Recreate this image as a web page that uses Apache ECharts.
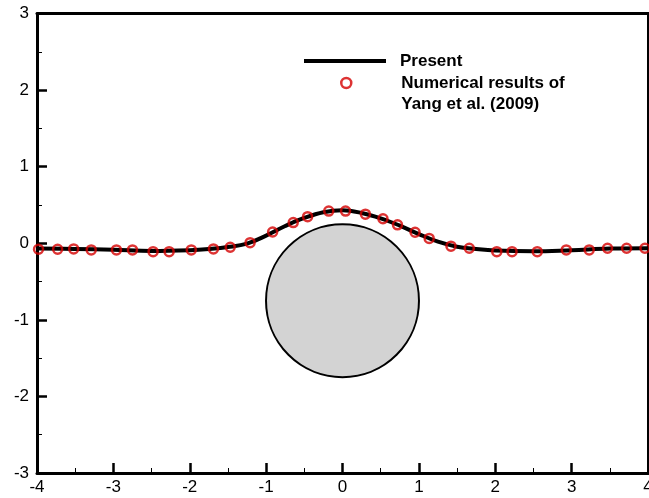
<!DOCTYPE html>
<html>
<head>
<meta charset="utf-8">
<script src="https://cdn.jsdelivr.net/npm/echarts@6/dist/echarts.min.js"></script>
<style>
  html, body { margin: 0; padding: 0; background: #fff; }
  #chart { width: 649px; height: 498px; }
</style>
</head>
<body>
<div id="chart"></div>
<script>
// Free-surface elevation over a submerged cylinder
var presentX = [-4, -3.5, -3, -2.5, -2, -1.75, -1.5, -1.25, -1, -0.75, -0.5, -0.25, 0, 0.25, 0.5, 0.75, 1, 1.25, 1.5, 1.75, 2, 2.5, 3, 3.5, 4];
var presentY = [-0.07, -0.075, -0.085, -0.1, -0.09, -0.075, -0.05, -0.005, 0.1, 0.225, 0.33, 0.405, 0.43, 0.395, 0.325, 0.23, 0.12, 0.02, -0.045, -0.075, -0.095, -0.105, -0.09, -0.07, -0.065];

var yangX = [-3.98, -3.73, -3.52, -3.29, -2.96, -2.75, -2.48, -2.27, -1.98, -1.69, -1.47, -1.21, -0.915, -0.645, -0.457, -0.18, 0.04, 0.30, 0.53, 0.72, 0.95, 1.135, 1.42, 1.66, 2.02, 2.22, 2.55, 2.93, 3.23, 3.47, 3.72, 3.96];
var yangY = [-0.078, -0.078, -0.074, -0.087, -0.087, -0.087, -0.11, -0.11, -0.087, -0.074, -0.052, 0.008, 0.147, 0.27, 0.347, 0.42, 0.42, 0.38, 0.32, 0.24, 0.143, 0.063, -0.038, -0.065, -0.11, -0.11, -0.11, -0.087, -0.087, -0.065, -0.065, -0.065];

// Cylinder: centre (x, y) and radius
var cylinder = [0, -0.75, 1];

var xTicks = [-4, -3, -2, -1, 0, 1, 2, 3, 4];
var yTicks = [-3, -2, -1, 0, 1, 2, 3];

var presentName = 'Present';
var yangName = 'Numerical results of\nYang et al. (2009)';

var font = 'Arial, "Liberation Sans", Helvetica, sans-serif';
var red = '#d40000';

function zip(a, b) {
  return a.map(function (v, i) { return [v, b[i]]; });
}

var chart = echarts.init(document.getElementById('chart'), null, { renderer: 'canvas' });

var axisLine = { show: true, onZero: false, lineStyle: { color: '#000', width: 3 } };
var legendText = { fontFamily: font, fontSize: 17, fontWeight: 'bold', color: '#000', lineHeight: 21, padding: [0, 0, 0, 9] };

chart.setOption({
  animation: false,
  backgroundColor: '#fff',
  grid: { left: 37, right: 1, top: 13.5, bottom: 25, containLabel: false, outerBoundsMode: 'none' },
  legend: [{
    left: 304,
    top: 50.5,
    padding: 0,
    itemWidth: 82,
    itemHeight: 4,
    selectedMode: false,
    icon: 'rect',
    textStyle: legendText,
    data: [{ name: presentName, itemStyle: { color: '#000' } }]
  }, {
    // leading blank line keeps the first text line level with the marker
    left: 340,
    top: 51.5,
    padding: 0,
    itemWidth: 82,
    itemHeight: 10,
    selectedMode: false,
    icon: 'circle',
    formatter: function (name) { return ' \n' + name; },
    textStyle: legendText,
    data: [{ name: yangName, itemStyle: { color: 'rgba(0,0,0,0)', borderColor: red, borderWidth: 2.5 } }]
  }],
  xAxis: [{
    type: 'value',
    min: xTicks[0], max: xTicks[xTicks.length - 1], interval: 1,
    axisLine: axisLine,
    axisTick: { show: true, inside: true, length: 10, lineStyle: { color: '#000', width: 2.5 } },
    minorTick: { show: true, splitNumber: 2, length: 5, lineStyle: { color: '#000', width: 1 } },
    splitLine: { show: false },
    axisLabel: { show: true, margin: 6, fontFamily: font, fontSize: 17, color: '#000', showMinLabel: true, showMaxLabel: true }
  }, {
    type: 'value', position: 'top',
    min: xTicks[0], max: xTicks[xTicks.length - 1], interval: 1,
    axisLine: axisLine, axisTick: { show: false }, axisLabel: { show: false }, splitLine: { show: false }
  }],
  yAxis: [{
    type: 'value',
    min: yTicks[0], max: yTicks[yTicks.length - 1], interval: 1,
    axisLine: axisLine,
    axisTick: { show: true, inside: true, length: 10, lineStyle: { color: '#000', width: 2.5 } },
    minorTick: { show: true, splitNumber: 2, length: 5, lineStyle: { color: '#000', width: 1 } },
    splitLine: { show: false },
    axisLabel: { show: true, margin: 8, fontFamily: font, fontSize: 17, color: '#000', showMinLabel: true, showMaxLabel: true }
  }, {
    type: 'value', position: 'right',
    min: yTicks[0], max: yTicks[yTicks.length - 1], interval: 1,
    axisLine: axisLine, axisTick: { show: false }, axisLabel: { show: false }, splitLine: { show: false }
  }],
  series: [{
    name: 'cylinder',
    type: 'custom',
    xAxisIndex: 0, yAxisIndex: 0,
    silent: true,
    z: 1,
    data: [cylinder],
    renderItem: function (params, api) {
      var c = api.coord([api.value(0), api.value(1)]);
      var s = api.size([api.value(2), api.value(2)]);
      return {
        type: 'circle',
        shape: { cx: c[0], cy: c[1], r: (s[0] + s[1]) / 2 },
        style: { fill: '#d3d3d3', stroke: '#000', lineWidth: 2 }
      };
    }
  }, {
    name: presentName,
    type: 'line',
    xAxisIndex: 0, yAxisIndex: 0,
    data: zip(presentX, presentY),
    smooth: 0.4,
    showSymbol: false,
    symbol: 'none',
    lineStyle: { color: '#000', width: 4 },
    itemStyle: { color: '#000' },
    z: 2
  }, {
    name: yangName,
    type: 'scatter',
    xAxisIndex: 0, yAxisIndex: 0,
    data: zip(yangX, yangY),
    symbol: 'circle',
    symbolSize: 9,
    itemStyle: { color: 'rgba(0,0,0,0)', borderColor: red, borderWidth: 2.5 },
    z: 3
  }]
});
</script>
</body>
</html>
